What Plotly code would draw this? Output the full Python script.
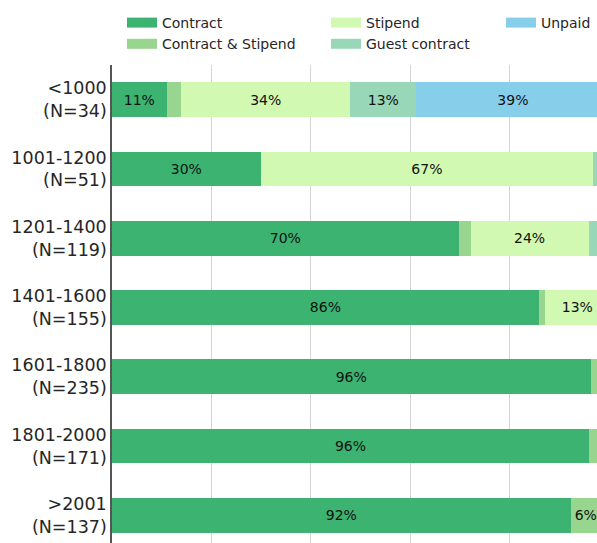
import plotly.graph_objects as go

# ---- data (percent of respondents per budget bin) ----
bins = ["<1000", "1001-1200", "1201-1400", "1401-1600", "1601-1800", "1801-2000", ">2001"]
counts = [34, 51, 119, 155, 235, 171, 137]

contract = [11.0, 29.9, 69.7, 85.8, 96.2, 95.9, 92.2]
contract_stipend = [2.9, 0.0, 2.4, 1.3, 3.8, 4.1, 6.1]
stipend = [34.0, 66.8, 23.7, 12.9, 0.0, 0.0, 1.7]
guest_contract = [13.3, 3.3, 4.2, 0.0, 0.0, 0.0, 0.0]
unpaid = [38.8, 0.0, 0.0, 0.0, 0.0, 0.0, 0.0]

series_names = ["Contract", "Contract & Stipend", "Stipend", "Guest contract", "Unpaid"]
series_values = [contract, contract_stipend, stipend, guest_contract, unpaid]
colors = ["#3cb371", "#98d58e", "#d1f9b2", "#98d8b8", "#87ceeb"]
legend_ids = ["legend", "legend", "legend2", "legend2", "legend3"]

labels = [f"{b}<br>(N={n})" for b, n in zip(bins, counts)]

fig = go.Figure()
for name, vals, col in zip(series_names, series_values, colors):
    fig.add_trace(go.Bar(
        y=labels, x=vals, orientation="h", name=name,
        marker=dict(color=col, line=dict(width=0)),
        text=[f"{round(v)}%" if v >= 5 else "" for v in vals],
        textposition="inside", insidetextanchor="middle", textangle=0,
        textfont=dict(family="DejaVu Sans", size=14, color="#111111"),
        showlegend=False, hoverinfo="x+name",
    ))

# legend entries (swatches styled like the reference); a single-point line draws nothing
for name, col, lg in zip(series_names, colors, legend_ids):
    fig.add_trace(go.Scatter(
        x=[0], y=[labels[0]], mode="lines", name=name,
        line=dict(color=col, width=10), legend=lg, showlegend=True,
        hoverinfo="skip",
    ))

W, H = 597, 543
ML, MT = 112, 65
PW, PH = W - ML, H - MT


def px_x(p):
    return (p - ML) / PW


def px_y(p):
    return 1 + (MT - p) / PH


legend_common = dict(
    xref="paper", yref="paper", xanchor="left", yanchor="top",
    orientation="v", bgcolor="rgba(0,0,0,0)", borderwidth=0,
    font=dict(family="DejaVu Sans", size=14, color="#262626"),
    tracegroupgap=0, itemclick=False, traceorder="normal",
)

fig.update_layout(
    width=W, height=H,
    margin=dict(l=ML, r=0, t=MT, b=0, pad=0),
    barmode="stack", bargap=0.5,
    plot_bgcolor="white", paper_bgcolor="white",
    font=dict(family="DejaVu Sans", size=17.5, color="#262626"),
    legend=dict(x=px_x(122), y=px_y(7), **legend_common),
    legend2=dict(x=px_x(326), y=px_y(7), **legend_common),
    legend3=dict(x=px_x(501), y=px_y(7), **legend_common),
    xaxis=dict(
        range=[0, 97.5], dtick=20, showgrid=True, gridcolor="#d4d4d4", gridwidth=1,
        zeroline=False, showticklabels=False, ticks="", showline=False,
        fixedrange=True, automargin=False,
    ),
    yaxis=dict(
        type="category", range=[6.4, -0.5], showgrid=False, zeroline=False,
        showline=True, linecolor="#555555", linewidth=1.5, ticks="",
        ticklabelstandoff=0, automargin=False, fixedrange=True,
        tickfont=dict(family="DejaVu Sans", size=17.5, color="#262626"),
    ),
)

fig.write_html(
    "out.html",
    config={"displayModeBar": False},
    post_script=(
        "document.body.style.margin='0px';"
        "document.documentElement.style.overflow='hidden';"
        "document.body.style.overflow='hidden';"
    ),
)
